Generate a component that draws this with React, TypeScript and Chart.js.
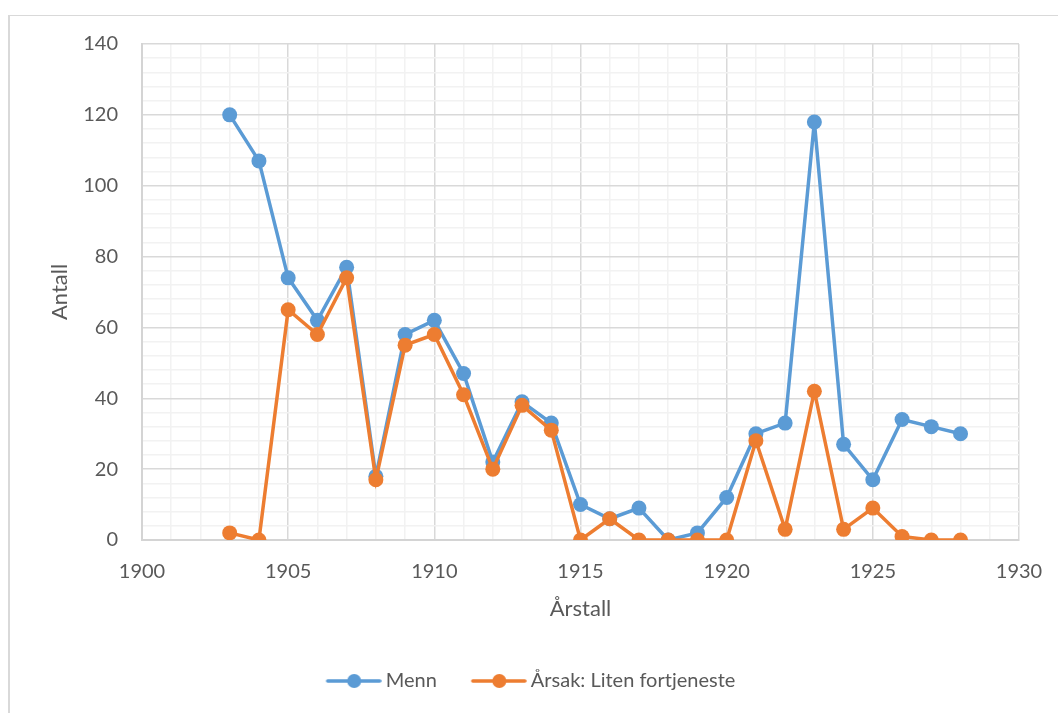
import React, { useEffect, useRef } from "react";
import { Chart, registerables } from "chart.js";

Chart.register(...registerables);

const years = [1903, 1904, 1905, 1906, 1907, 1908, 1909, 1910, 1911, 1912, 1913, 1914, 1915, 1916, 1917, 1918, 1919, 1920, 1921, 1922, 1923, 1924, 1925, 1926, 1927, 1928];
const menn = [120, 107, 74, 62, 77, 18, 58, 62, 47, 22, 39, 33, 10, 6, 9, 0, 2, 12, 30, 33, 118, 27, 17, 34, 32, 30];
const litenFortjeneste = [2, 0, 65, 58, 74, 17, 55, 58, 41, 20, 38, 31, 0, 6, 0, 0, 0, 0, 28, 3, 42, 3, 9, 1, 0, 0];
const xTickLabels = [1900, 1905, 1910, 1915, 1920, 1925, 1930];
const yTickLabels = [0, 20, 40, 60, 80, 100, 120, 140];
const seriesNames = ["Menn", "Årsak: Liten fortjeneste"];
const xTitle = "Årstall";
const yTitle = "Antall";

const BLUE = "#5B9BD5";
const ORANGE = "#ED7D31";
const TEXT = "#595959";
const FONT = "Lato, 'Open Sans', sans-serif";

function legendIcon(color: string): HTMLCanvasElement {
  const c = document.createElement("canvas");
  c.width = 86;
  c.height = 18;
  const g = c.getContext("2d")!;
  g.strokeStyle = color;
  g.lineWidth = 3.5;
  g.lineCap = "round";
  g.beginPath();
  g.moveTo(32, 9);
  g.lineTo(84, 9);
  g.stroke();
  g.fillStyle = color;
  g.beginPath();
  g.arc(58.5, 9, 7, 0, Math.PI * 2);
  g.fill();
  return c;
}

export default function App() {
  const ref = useRef<HTMLCanvasElement | null>(null);

  useEffect(() => {
    if (!ref.current) return;
    const icons = [legendIcon(BLUE), legendIcon(ORANGE)];
    const chart = new Chart(ref.current, {
      type: "line",
      data: {
        datasets: [
          {
            label: seriesNames[0],
            data: years.map((x, i) => ({ x, y: menn[i] })),
            borderColor: BLUE,
            backgroundColor: BLUE,
            pointBackgroundColor: BLUE,
            pointBorderColor: BLUE,
            borderWidth: 3.5,
            pointRadius: 7.5,
            pointBorderWidth: 0,
            order: 1,
          } as any,
          {
            label: seriesNames[1],
            data: years.map((x, i) => ({ x, y: litenFortjeneste[i] })),
            borderColor: ORANGE,
            backgroundColor: ORANGE,
            pointBackgroundColor: ORANGE,
            pointBorderColor: ORANGE,
            borderWidth: 3.5,
            pointRadius: 7.5,
            pointBorderWidth: 0,
            order: 0,
          } as any,
        ],
      },
      options: {
        animation: false,
        responsive: false,
        maintainAspectRatio: false,
        layout: { padding: { left: 18, right: 39, top: 44, bottom: 12 } },
        elements: { line: { tension: 0 }, point: { pointStyle: "circle" } },
        scales: {
          x: {
            type: "linear",
            min: 1900,
            max: 1930,
            afterFit: (s: any) => {
              s.height = 121;
            },
            ticks: {
              stepSize: 1,
              autoSkip: false,
              maxRotation: 0,
              padding: 0,
              color: TEXT,
              font: { family: FONT, size: 20 },
              callback: (v: any) => (xTickLabels.includes(Number(v)) ? String(v) : ""),
            },
            grid: {
              drawTicks: true,
              tickLength: 20,
              tickColor: "rgba(0,0,0,0)",
              color: (c: any) => (c.tick && c.tick.value % 5 === 0 ? "#d9d9d9" : "#f2f2f2"),
              lineWidth: 1.5,
            },
            border: { display: true, color: "#d4d4d4", width: 2 },
            title: {
              display: true,
              text: xTitle,
              color: TEXT,
              font: { family: FONT, size: 22 },
              padding: { top: 0, bottom: 39 },
            },
          },
          y: {
            type: "linear",
            min: 0,
            max: 140,
            afterFit: (s: any) => {
              s.width = 124;
            },
            ticks: {
              stepSize: 4,
              autoSkip: false,
              padding: 24,
              color: TEXT,
              font: { family: FONT, size: 20 },
              callback: (v: any) => (yTickLabels.includes(Number(v)) ? String(v) : ""),
            },
            grid: {
              drawTicks: false,
              color: (c: any) => (c.tick && c.tick.value % 20 === 0 ? "#d9d9d9" : "#f2f2f2"),
              lineWidth: 1.5,
            },
            border: { display: true, color: "#d4d4d4", width: 2 },
            title: {
              display: true,
              text: yTitle,
              color: TEXT,
              font: { family: FONT, size: 22 },
              padding: { top: 29, bottom: 0 },
            },
          },
        },
        plugins: {
          legend: {
            position: "bottom",
            labels: {
              usePointStyle: true,
              pointStyleWidth: 74,
              boxHeight: 18,
              padding: 10,
              color: TEXT,
              font: { family: FONT, size: 20 },
              sort: (a: any, b: any) => a.datasetIndex - b.datasetIndex,
              generateLabels: (ch: any) =>
                ch.data.datasets.map((d: any, i: number) => ({
                  text: d.label,
                  pointStyle: icons[i],
                  fillStyle: d.borderColor,
                  strokeStyle: d.borderColor,
                  lineWidth: 0,
                  hidden: false,
                  datasetIndex: i,
                  fontColor: TEXT,
                })),
            },
          },
          tooltip: { enabled: false },
        },
      },
    });
    return () => chart.destroy();
  }, []);

  return (
    <div
      style={{
        position: "absolute",
        left: 0,
        top: 0,
        width: 1058,
        height: 713,
        background: "#fff",
        overflow: "hidden",
      }}
    >
      <div
        style={{
          position: "absolute",
          left: 8,
          top: 15,
          width: 1100,
          height: 750,
          borderLeft: "2px solid #d9d9d9",
          borderTop: "1px solid #d9d9d9",
        }}
      />
      <canvas ref={ref} width={1058} height={713} style={{ display: "block", position: "absolute", left: 0, top: 0 }} />
    </div>
  );
}
